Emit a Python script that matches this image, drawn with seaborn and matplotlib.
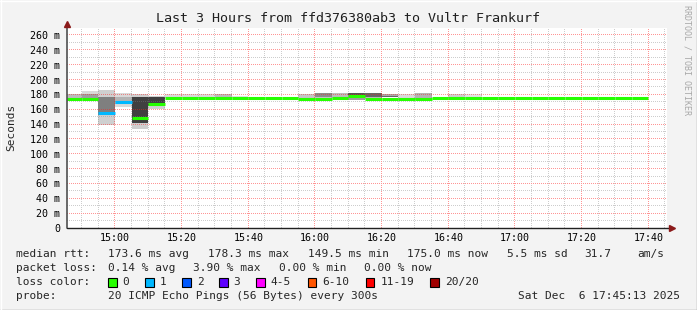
import numpy as np
import pandas as pd
import matplotlib
matplotlib.use("Agg")
import matplotlib.pyplot as plt
import seaborn as sns
from matplotlib.patches import Rectangle
from matplotlib.lines import Line2D

# ---------------- data ----------------
step_start = ["14:45", "14:50", "14:55", "15:00", "15:05", "15:10", "15:15", "15:20",
              "15:25", "15:30", "15:35", "15:40", "15:45", "15:50", "15:55", "16:00",
              "16:05", "16:10", "16:15", "16:20", "16:25", "16:30", "16:35", "16:40",
              "16:45", "16:50", "16:55", "17:00", "17:05", "17:10", "17:15", "17:20",
              "17:25", "17:30", "17:35"]
median_ms = [174.0, 174.3, 154.5, 169.5, 148.3, 166.5, 174.7, 174.7,
             174.7, 174.7, 174.7, 174.7, 174.8, 174.8, 174.3, 174.0,
             174.5, 177.4, 174.0, 174.2, 174.3, 174.3, 174.6, 174.5,
             174.6, 174.8, 174.8, 174.7, 174.8, 174.8, 174.8, 174.9,
             174.8, 174.8, 175.0]
lost_pings = [0, 0, 1, 1, 0, 0, 0, 0, 0, 0, 0, 0, 0, 0, 0, 0, 0, 0,
              0, 0, 0, 0, 0, 0, 0, 0, 0, 0, 0, 0, 0, 0, 0, 0, 0]
nan = np.nan
smoke_lo = [171, 172, 139, 163, 134, 160, 175, 175, 175, 175, 175, nan, nan, nan, 175.5, 173,
            175, 173, 174, 176, 173, 173, nan, 174, 174] + [nan] * 10
smoke_hi = [180, 185, 186, 182, 180, 178, 180, 180, 180, 180, 178, nan, nan, nan, 180, 181.5,
            181.5, 181.5, 181.5, 180, 180, 181.5, nan, 180, 180] + [nan] * 10
smoke_density = [0.2, 0.2, 0.25, 0.2, 0.25, 0.25, 0.2, 0.2, 0.2, 0.35, 0.15, 0, 0, 0, 0.3, 0.3,
                 0.35, 0.5, 0.35, 0.45, 0.2, 0.4, 0, 0.25, 0.15] + [0] * 10
core_lo = [175, 175, 152, 167, 141, 165] + [nan] * 9 + [177, nan, 179, 177, 176] + [nan] * 15
core_hi = [180, 180, 176, 176, 176, 177] + [nan] * 9 + [181.5, nan, 181.5, 181.5, 177.5] + [nan] * 15
core_density = [0.35, 0.5, 0.67, 0.4, 1.0, 1.0] + [0] * 9 + [0.6, 0, 0.9, 0.8, 0.8] + [0] * 15

loss_labels = ["0", "1", "2", "3", "4-5", "6-10", "11-19", "20/20"]
loss_colors = ["#26ff00", "#00b8ff", "#0059ff", "#5e00ff", "#ff00ff", "#ff5500", "#ff0000", "#a00000"]

y_ticks = list(range(0, 261, 20))
x_tick_labels = ["15:00", "15:20", "15:40", "16:00", "16:20", "16:40", "17:00", "17:20", "17:40"]

title = "Last 3 Hours from ffd376380ab3 to Vultr Frankurf"
rtt_stats = ["173.6 ms avg", "178.3 ms max", "149.5 ms min", "175.0 ms now", "5.5 ms sd", "31.7", "am/s"]
loss_stats = ["0.14 % avg", "3.90 % max", "0.00 % min", "0.00 % now"]
probe_text = "20 ICMP Echo Pings (56 Bytes) every 300s"
date_text = "Sat Dec  6 17:45:13 2025"


def to_min(s):
    h, m = s.split(":")
    return int(h) * 60 + int(m)


def loss_label(n):
    if n <= 3:
        return str(n)
    if n <= 5:
        return "4-5"
    if n <= 10:
        return "6-10"
    if n <= 19:
        return "11-19"
    return "20/20"


# ---------------- style ----------------
sns.set_style("white")
plt.rcParams["font.family"] = ["DejaVu Sans Mono"]
MONO = "DejaVu Sans Mono"

W, H = 697, 310
AX_W, AX_H = 600, 200
fig = plt.figure(figsize=(W / 100, H / 100), dpi=100)
fig.patch.set_facecolor("#f3f3f3")
ax = fig.add_axes([67 / W, 82 / H, AX_W / W, AX_H / H])
ax.set_facecolor("white")

t0 = np.array([to_min(s) for s in step_start], dtype=float)
STEP = 5.0

# smoke
def grey(d):
    g = 1 - 0.75 * d
    return (g, g, g)

slo = np.array(smoke_lo, dtype=float)
shi = np.array(smoke_hi, dtype=float)
ok = ~np.isnan(slo)
ax.bar(t0[ok], (shi - slo)[ok], bottom=slo[ok], width=STEP, align="edge",
       color=[grey(d) for d in np.array(smoke_density)[ok]], linewidth=0, zorder=1)
clo = np.array(core_lo, dtype=float)
chi = np.array(core_hi, dtype=float)
ok2 = ~np.isnan(clo)
ax.bar(t0[ok2], (chi - clo)[ok2], bottom=clo[ok2], width=STEP, align="edge",
       color=[grey(d) for d in np.array(core_density)[ok2]], linewidth=0, zorder=1.1)

# median line segments colored by loss
rows = []
for i, (t, m, l) in enumerate(zip(t0, median_ms, lost_pings)):
    lab = loss_label(l)
    rows.append(dict(t=t, rtt=m, step=i, loss=lab))
    rows.append(dict(t=t + STEP, rtt=m, step=i, loss=lab))
df = pd.DataFrame(rows)
palette = dict(zip(loss_labels, loss_colors))
sns.lineplot(data=df, x="t", y="rtt", hue="loss", units="step", estimator=None,
             palette={k: palette[k] for k in df["loss"].unique()}, linewidth=2.2,
             legend=False, ax=ax, zorder=3)
for ln in ax.lines:
    ln.set_solid_capstyle("butt")

# axes limits & ticks
x0 = to_min("17:40") - (648.3 - 67) / (600 / 180)
x1 = x0 + 180
y_top = AX_H / (193.0 / 260)
major_x = [to_min(s) for s in x_tick_labels]
minor_x = [v for v in np.arange(to_min("14:50"), x1, 5) if v not in major_x]
minor_y = [v for v in range(10, 270, 10) if v not in y_ticks]

ax.set_xticks(major_x)
ax.set_xticklabels(x_tick_labels)
ax.set_yticks(y_ticks)
ax.set_yticklabels(["0" if v == 0 else f"{v} m" for v in y_ticks])
ax.tick_params(axis="both", which="both", length=0, labelsize=7.2, colors="black")
ax.tick_params(axis="y", pad=5.0)
ax.tick_params(axis="x", pad=3.6)
for lab in ax.get_xticklabels() + ax.get_yticklabels():
    lab.set_fontfamily(MONO)
ax.set_xlabel("")
ax.set_ylabel("")
ax.grid(False)

# pixel-exact dotted grid (rrdtool style, semi-transparent over the smoke)
grid_img = np.zeros((AX_H, AX_W, 4), dtype=np.uint8)
minor_rgba = np.array([128, 128, 128, 100], dtype=np.uint8)
major_rgba = np.array([255, 30, 30, 120], dtype=np.uint8)


def col_of(t):
    return int(np.floor((t - x0) / (x1 - x0) * AX_W))


def row_of(v):
    return int(np.floor(v / y_top * AX_H))


for v in minor_y:
    r = row_of(v)
    if 0 <= r < AX_H:
        grid_img[r, 0::2, :] = minor_rgba
for t in minor_x:
    c = col_of(t)
    if 0 <= c < AX_W:
        grid_img[0::2, c, :] = minor_rgba
for v in y_ticks[1:]:
    r = row_of(v)
    if 0 <= r < AX_H:
        grid_img[r, 0::2, :] = major_rgba
for t in major_x:
    c = col_of(t)
    if 0 <= c < AX_W:
        grid_img[0::2, c, :] = major_rgba
ax.imshow(grid_img, origin="lower", extent=(x0, x1, 0, y_top), aspect="auto",
          interpolation="nearest", zorder=2)
ax.set_xlim(x0, x1)
ax.set_ylim(0, y_top)

for s in ax.spines.values():
    s.set_visible(False)

# axis lines with arrows
ax.plot([0, 0], [0, 1 + 4 / AX_H], transform=ax.transAxes, color="#505050", lw=1.2,
        clip_on=False, zorder=4)
ax.plot([0, 1 + 2 / AX_W], [0, 0], transform=ax.transAxes, color="#202020", lw=1.0,
        clip_on=False, zorder=4)
ax.plot([0], [1 + 4 / AX_H], transform=ax.transAxes, marker="^", markersize=5,
        color="#8b1a1a", clip_on=False, zorder=5)
ax.plot([1 + 5 / AX_W], [0], transform=ax.transAxes, marker=">", markersize=5,
        color="#8b1a1a", clip_on=False, zorder=5)

# title and labels
def px(x, y):
    return x / W, 1 - y / H

fig.text(*px(348.5, 19), title, ha="center", va="center", fontsize=9.6, family=MONO, color="#202020")
fig.text(*px(11, 127), "Seconds", ha="center", va="center", rotation=90, fontsize=8, family=MONO)
fig.text(*px(687.5, 60), "RRDTOOL / TOBI OETIKER", ha="center", va="center", rotation=270,
         fontsize=6, family=MONO, color="#a8a8a8")

FS = 8
fig.text(*px(16.4, 254), "median rtt:", ha="left", va="center", fontsize=FS, family=MONO)
for x, s in zip([107.6, 207.6, 307.6, 407.5, 506.7, 584, 637], rtt_stats):
    fig.text(*px(x, 254), s, ha="left", va="center", fontsize=FS, family=MONO)
fig.text(*px(16.4, 268), "packet loss:", ha="left", va="center", fontsize=FS, family=MONO)
for x, s in zip([107.6, 193.3, 279.1, 364.4], loss_stats):
    fig.text(*px(x, 268), s, ha="left", va="center", fontsize=FS, family=MONO)
fig.text(*px(16.4, 282), "loss color:", ha="left", va="center", fontsize=FS, family=MONO)
sq_x = [108, 145, 182.2, 219, 256, 307.6, 365.8, 430.2]
for x, lab, c in zip(sq_x, loss_labels, loss_colors):
    fig.add_artist(Rectangle((x / W, 1 - 286.7 / H), 8.5 / W, 9 / H, transform=fig.transFigure,
                             facecolor=c, edgecolor="black", linewidth=0.8))
    fig.text(*px(x + 14.5, 282), lab, ha="left", va="center", fontsize=FS, family=MONO)
fig.text(*px(16.4, 296), "probe:", ha="left", va="center", fontsize=FS, family=MONO)
fig.text(*px(107.6, 296), probe_text, ha="left", va="center", fontsize=FS, family=MONO)
fig.text(*px(680, 296), date_text, ha="right", va="center", fontsize=FS, family=MONO)

# canvas frame
fig.add_artist(Line2D([0, 1], [0.5 / H, 0.5 / H], transform=fig.transFigure, color="#9a9a9a", lw=1))
fig.add_artist(Line2D([1 - 0.5 / W, 1 - 0.5 / W], [0, 1], transform=fig.transFigure, color="#9a9a9a", lw=1))
fig.add_artist(Line2D([0, 1], [1 - 0.5 / H, 1 - 0.5 / H], transform=fig.transFigure, color="#ffffff", lw=1))
fig.add_artist(Line2D([0.5 / W, 0.5 / W], [0, 1], transform=fig.transFigure, color="#ffffff", lw=1))

fig.savefig("out.png", dpi=100, facecolor=fig.get_facecolor())
